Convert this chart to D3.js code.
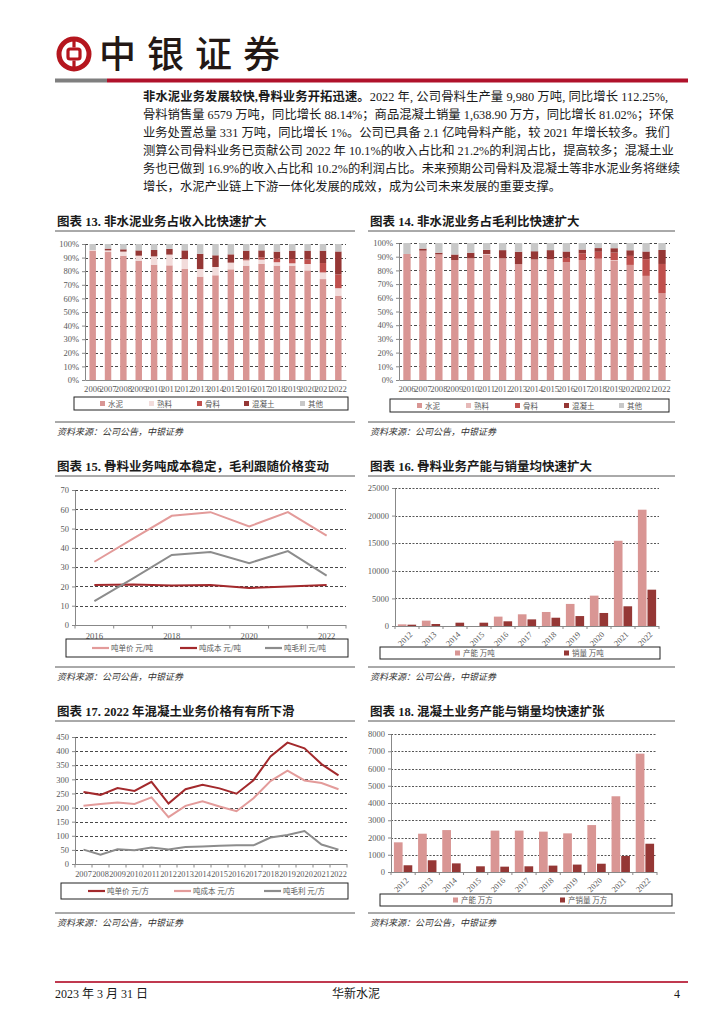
<!DOCTYPE html>
<html><head><meta charset="utf-8">
<script src="https://cdn.jsdelivr.net/npm/d3@7"></script>
<style>
body{margin:0;background:#fff;}
#page{position:relative;width:724px;height:1024px;overflow:hidden;background:#fff;}
.pl{position:absolute;left:143px;width:525px;height:18px;line-height:18px;font-family:"Liberation Serif","Noto Sans CJK SC",serif;font-size:12.3px;color:#1a1a1a;white-space:nowrap;}
.j{text-align:justify;text-align-last:justify;}
svg{position:absolute;left:0;top:0;}
</style></head><body><div id="page"></div>
<script>
// ================= DATA =================
const paraLines = [
  ["非水泥业务发展较快,骨料业务开拓迅速。", "2022 年, 公司骨料生产量 9,980 万吨, 同比增长 112.25%,"],
  ["", "骨料销售量 6579 万吨，同比增长 88.14%；商品混凝土销量 1,638.90 万方，同比增长 81.02%；环保"],
  ["", "业务处置总量 331 万吨，同比增长 1%。公司已具备 2.1 亿吨骨料产能，较 2021 年增长较多。我们"],
  ["", "测算公司骨料业务已贡献公司 2022 年 10.1%的收入占比和 21.2%的利润占比，提高较多；混凝土业"],
  ["", "务也已做到 16.9%的收入占比和 10.2%的利润占比。未来预期公司骨料及混凝土等非水泥业务将继续"],
  ["", "增长，水泥产业链上下游一体化发展的成效，成为公司未来发展的重要支撑。"]
];
const chartTitles = [
  "图表 13. 非水泥业务占收入比快速扩大",
  "图表 14. 非水泥业务占毛利比快速扩大",
  "图表 15. 骨料业务吨成本稳定，毛利跟随价格变动",
  "图表 16. 骨料业务产能与销量均快速扩大",
  "图表 17. 2022 年混凝土业务价格有有所下滑",
  "图表 18. 混凝土业务产能与销量均快速扩张"
];
const sourceText = "资料来源：公司公告，中银证券";

// Charts 13/14: stacked share
const years13 = ["2006","2007","2008","2009","2010","2011","2012","2013","2014","2015","2016","2017","2018","2019","2020","2021","2022"];
const pctTicks = [0,10,20,30,40,50,60,70,80,90,100];
const stackKeys = ["水泥","熟料","骨料","混凝土","其他"];
const revCement    = [95.1,94.1,91.4,87.7,84.8,84.3,81.6,76.0,77.0,81.4,84.1,85.3,84.1,84.1,80.6,74.2,62.0];
const revClinker   = [0.5,1.2,3.0,3.7,6.1,7.9,7.3,5.6,6.1,4.9,3.9,3.2,2.5,1.7,4.7,4.9,5.5];
const revAggregate = [0,0,0,0,0,0,0,0,0,0,0.5,1.7,2.9,3.2,3.2,6.9,10.1];
const revConcrete  = [0,1.3,1.7,3.9,4.7,4.2,6.4,11.2,8.6,6.1,6.6,5.1,4.9,6.1,6.6,9.1,16.9];
const revOther     = [4.4,3.4,3.9,4.7,4.4,3.6,4.7,7.2,8.3,7.6,4.9,4.7,5.6,4.9,4.9,4.9,5.5];
const gpCement     = [92.0,94.4,91.7,87.6,88.8,91.5,88.8,84.6,88.0,88.3,86.0,87.6,88.5,87.0,84.0,76.0,63.5];
const gpClinker    = [0,0,0,0,0,0.5,0,0,0,0,0,0,0,0.6,0,0,0];
const gpAggregate  = [0,0,0,0,0,0,0,0,0,0,3.2,4.9,5.1,5.4,6.6,12.2,21.2];
const gpConcrete   = [0,1.5,1.2,4.0,4.1,3.0,6.0,9.0,6.0,6.5,4.6,2.7,2.7,3.2,4.1,5.6,10.2];
const gpOther      = [8.0,4.1,7.1,8.4,7.1,5.0,5.2,6.4,6.0,5.2,6.2,4.8,3.7,3.8,5.3,6.2,5.1];

// Chart 15: aggregate per-ton
const years15 = ["2016","2017","2018","2019","2020","2021","2022"];
const xLabels15 = ["2016","2018","2020","2022"];
const ticks15 = [0,10,20,30,40,50,60,70];
const aggPrice  = [32.8,44.8,56.6,58.5,51.1,58.5,46.3];
const aggCost   = [20.7,21.0,20.5,20.7,19.2,20.0,20.7];
const aggProfit = [12.4,24.2,36.3,37.8,32.1,38.3,25.6];
const legend15 = ["吨单价 元/吨","吨成本 元/吨","吨毛利 元/吨"];

// Chart 16: aggregate capacity & sales
const years16 = ["2012","2013","2014","2015","2016","2017","2018","2019","2020","2021","2022"];
const ticks16 = [0,5000,10000,15000,20000,25000];
const aggCapacity = [300,970,0,0,1700,2120,2540,4000,5500,15440,21070];
const aggSales    = [240,360,600,600,850,1200,1500,1800,2360,3570,6579];
const legend16 = ["产能 万吨","销量 万吨"];

// Chart 17: concrete per-cubic
const years17 = ["2007","2008","2009","2010","2011","2012","2013","2014","2015","2016","2017","2018","2019","2020","2021","2022"];
const ticks17 = [0,50,100,150,200,250,300,350,400,450];
const conPrice  = [255,245,269,259,291,214,265,281,268,249,297,381,430,410,354,314];
const conCost   = [206,213,218,213,236,166,206,222,204,187,233,294,331,296,287,265];
const conProfit = [51,33,52,49,58,51,60,62,65,66,66,94,103,117,69,51];
const legend17 = ["吨单价 元/方","吨成本 元/方","吨毛利 元/方"];

// Chart 18: concrete capacity & sales
const years18 = ["2012","2013","2014","2015","2016","2017","2018","2019","2020","2021","2022"];
const ticks18 = [0,1000,2000,3000,4000,5000,6000,7000,8000];
const conCapacity = [1720,2220,2430,0,2400,2400,2340,2240,2720,4390,6860];
const conSales    = [390,680,500,330,310,330,370,430,480,930,1639];
const legend18 = ["产能 万方","产销量 万方"];

// ================= STYLE =================
const SERIF = '"Liberation Serif","Noto Sans CJK SC",serif';
const CJK = '"Noto Sans CJK SC",sans-serif';
const C_PINK = "#d99694", C_LIGHT = "#f2dcdb", C_CLINK14 = "#e6b9b8", C_RED = "#c0504d", C_DARK = "#953735", C_GRAY = "#c8c8c8";
const AXIS_TXT = "#595959";

const page = d3.select("#page");
const svg = page.append("svg").attr("width",724).attr("height",1024);

// ================= HEADER =================
const logo = svg.append("g").attr("transform","translate(74,54)");
logo.append("circle").attr("r",15).attr("fill","none").attr("stroke","#b5161e").attr("stroke-width",5);
logo.append("rect").attr("x",-6).attr("y",-5).attr("width",12).attr("height",10).attr("rx",2).attr("fill","none").attr("stroke","#b5161e").attr("stroke-width",3.2);
logo.append("line").attr("x1",0).attr("x2",0).attr("y1",-15).attr("y2",-6.5).attr("stroke","#b5161e").attr("stroke-width",3.2);
logo.append("line").attr("x1",0).attr("x2",0).attr("y1",6.5).attr("y2",15).attr("stroke","#b5161e").attr("stroke-width",3.2);
svg.append("text").attr("x",99).attr("y",68).attr("font-family",CJK).attr("font-size",37).attr("font-weight",500)
  .attr("letter-spacing",11).attr("fill","#231815").text("中银证券");
svg.append("rect").attr("x",55).attr("y",78.5).attr("width",52).attr("height",4).attr("fill","#7f7f7f");
svg.append("rect").attr("x",107).attr("y",78.5).attr("width",581).attr("height",4).attr("fill","#b0122b");

// ================= PARAGRAPH =================
paraLines.forEach((ln,i)=>{
  const d = page.append("div").attr("class","pl"+(i<paraLines.length-1?" j":"")).style("top",(88+i*18)+"px");
  if(ln[0]) d.append("b").style("font-family",SERIF).text(ln[0]);
  d.append("span").text(ln[1]);
});

// ================= FOOTER =================
svg.append("rect").attr("x",55).attr("y",981).attr("width",633).attr("height",2).attr("fill","#c0394f");
svg.append("text").attr("x",55).attr("y",998).attr("font-family",SERIF).attr("font-size",12).attr("fill","#1a1a1a").text("2023 年 3 月 31 日");
svg.append("text").attr("x",356).attr("y",998).attr("text-anchor","middle").attr("font-family",SERIF).attr("font-size",12).attr("fill","#1a1a1a").text("华新水泥");
svg.append("text").attr("x",680).attr("y",998).attr("text-anchor","end").attr("font-family",SERIF).attr("font-size",12).attr("fill","#1a1a1a").text("4");

// ================= HELPERS =================
function frame(x0,x1,titleY,title,sepY){
  svg.append("text").attr("x",x0+2).attr("y",titleY).attr("font-family",SERIF).attr("font-weight","bold")
    .attr("font-size",12.5).attr("fill","#1a1a1a").text(title);
  svg.append("line").attr("x1",x0).attr("x2",x1).attr("y1",titleY+5).attr("y2",titleY+5).attr("stroke","#555").attr("stroke-width",1);
  svg.append("line").attr("x1",x0).attr("x2",x1).attr("y1",sepY).attr("y2",sepY).attr("stroke","#555").attr("stroke-width",1);
  svg.append("text").attr("x",x0+2).attr("y",sepY+13).attr("font-family",CJK).attr("font-style","italic")
    .attr("font-size",9).attr("fill","#333").text(sourceText);
}
function grid(g,ticks,y,x0,x1,color,dash){
  g.append("g").selectAll("line").data(ticks.filter(t=>t>0)).join("line")
    .attr("x1",x0).attr("x2",x1).attr("y1",d=>Math.round(y(d))+0.5).attr("y2",d=>Math.round(y(d))+0.5)
    .attr("stroke",color).attr("stroke-width",0.9).attr("stroke-dasharray",dash);
}
function yAxis(g,y,ticks,x0,fmt){
  const a = g.append("g").attr("transform",`translate(${x0},0)`)
    .call(d3.axisLeft(y).tickValues(ticks).tickFormat(fmt).tickSize(3).tickPadding(3).tickSizeOuter(0));
  a.select(".domain").attr("stroke","#888");
  a.selectAll(".tick line").attr("stroke","#888");
  a.selectAll("text").attr("font-family",SERIF).attr("font-size",8.5).attr("fill",AXIS_TXT);
}
function legendBox(g,x0,x1,y0,y1){
  g.append("rect").attr("x",x0).attr("y",y0).attr("width",x1-x0).attr("height",y1-y0)
    .attr("fill","#fff").attr("stroke","#222").attr("stroke-width",1);
}
function legendSquares(g,items,colors,xs,cy){
  const it = g.append("g").selectAll("g").data(items).join("g").attr("transform",(d,i)=>`translate(${xs[i]},${cy})`);
  it.append("rect").attr("x",0).attr("y",-2.5).attr("width",5).attr("height",5).attr("fill",(d,i)=>colors[i]);
  it.append("text").attr("x",8).attr("y",3).attr("font-family",CJK).attr("font-size",7.5).attr("fill",AXIS_TXT).text(d=>d);
}
function legendLines(g,items,colors,xs,cy){
  const it = g.append("g").selectAll("g").data(items).join("g").attr("transform",(d,i)=>`translate(${xs[i]},${cy})`);
  it.append("line").attr("x1",0).attr("x2",17).attr("stroke",(d,i)=>colors[i]).attr("stroke-width",2.2);
  it.append("text").attr("x",19).attr("y",3).attr("font-family",CJK).attr("font-size",7.5).attr("fill",AXIS_TXT).text(d=>d);
}

// ================= STACKED CHARTS =================
function stackChart(cfg){
  const g = svg.append("g");
  const x = d3.scaleBand().domain(years13).range([cfg.left,cfg.right]).paddingInner(cfg.pad).paddingOuter(cfg.pad/2);
  const y = d3.scaleLinear().domain([0,100]).range([cfg.bottom,cfg.top]);
  grid(g,pctTicks,y,cfg.left,cfg.right,"#333","3,2");
  const rows = years13.map((yr,i)=>{const o={year:yr}; stackKeys.forEach((k,j)=>o[k]=cfg.series[j][i]); return o;});
  const st = d3.stack().keys(stackKeys)(rows);
  g.append("g").selectAll("g").data(st).join("g").attr("fill",(d,i)=>cfg.colors[i])
    .selectAll("rect").data(d=>d).join("rect")
    .attr("x",d=>x(d.data.year)).attr("width",x.bandwidth())
    .attr("y",d=>y(d[1])).attr("height",d=>Math.max(0,y(d[0])-y(d[1])));
  yAxis(g,y,pctTicks,cfg.left,d=>d+"%");
  const xa = g.append("g").attr("transform",`translate(0,${cfg.bottom})`)
    .call(d3.axisBottom(x).tickSize(0).tickPadding(6).tickSizeOuter(0));
  xa.select(".domain").attr("stroke","#888");
  xa.selectAll("text").attr("font-family",SERIF).attr("font-size",8.6).attr("fill",AXIS_TXT);
  legendBox(g,cfg.lx0,cfg.lx1,cfg.ly0,cfg.ly1);
  legendSquares(g,stackKeys,cfg.colors,cfg.lxs,(cfg.ly0+cfg.ly1)/2);
}
frame(55,355,226,chartTitles[0],422);
frame(368,675,226,chartTitles[1],422);
stackChart({left:85,right:346,top:244,bottom:380,pad:0.58,
  series:[revCement,revClinker,revAggregate,revConcrete,revOther],
  colors:[C_PINK,C_LIGHT,C_RED,C_DARK,C_GRAY],
  lx0:74,lx1:348,ly0:397,ly1:410,lxs:[100,149,197,244,300]});
stackChart({left:399,right:670,top:243,bottom:380,pad:0.54,
  series:[gpCement,gpClinker,gpAggregate,gpConcrete,gpOther],
  colors:[C_PINK,C_CLINK14,C_RED,C_DARK,C_GRAY],
  lx0:390,lx1:669,ly0:399,ly1:412,lxs:[417,466,515,564,619]});

// ================= LINE CHARTS =================
function lineChart(cfg){
  const g = svg.append("g");
  const x = d3.scaleBand().domain(cfg.years).range([cfg.left,cfg.right]);
  const y = d3.scaleLinear().domain([0,cfg.ticks[cfg.ticks.length-1]]).range([cfg.bottom,cfg.top]);
  grid(g,cfg.ticks,y,cfg.left,cfg.right,"#333","3,2");
  yAxis(g,y,cfg.ticks,cfg.left,d=>d);
  g.append("line").attr("x1",cfg.left).attr("x2",cfg.right).attr("y1",cfg.bottom+0.5).attr("y2",cfg.bottom+0.5).attr("stroke","#888");
  g.append("g").selectAll("line").data(d3.range(cfg.years.length+1)).join("line")
    .attr("x1",i=>cfg.left+i*x.step()).attr("x2",i=>cfg.left+i*x.step())
    .attr("y1",cfg.bottom).attr("y2",cfg.bottom+3.5).attr("stroke","#888");
  const xa = g.append("g").attr("transform",`translate(0,${cfg.bottom})`)
    .call(d3.axisBottom(x).tickValues(cfg.labels).tickSize(0).tickPadding(cfg.lpad).tickSizeOuter(0));
  xa.select(".domain").remove();
  xa.selectAll("text").attr("font-family",SERIF).attr("font-size",cfg.lfs).attr("fill",AXIS_TXT);
  const line = d3.line().x((d,i)=>x(cfg.years[i])+x.bandwidth()/2).y(d=>y(d));
  cfg.series.forEach((s,k)=>{
    g.append("path").datum(s).attr("d",line).attr("fill","none").attr("stroke",cfg.colors[k]).attr("stroke-width",2);
  });
  legendBox(g,cfg.lx0,cfg.lx1,cfg.ly0,cfg.ly1);
  legendLines(g,cfg.legend,cfg.colors,cfg.lxs,(cfg.ly0+cfg.ly1)/2);
}
frame(55,355,471,chartTitles[2],667);
lineChart({years:years15,labels:xLabels15,ticks:ticks15,left:75,right:346,top:490,bottom:625,lpad:8,lfs:8.6,
  series:[aggPrice,aggCost,aggProfit],colors:["#e39b9a","#a3292c","#8c8c8c"],legend:legend15,
  lx0:66,lx1:348,ly0:639,ly1:657,lxs:[92,180,265]});
frame(55,355,716,chartTitles[4],913);
lineChart({years:years17,labels:years17,ticks:ticks17,left:75,right:347,top:737,bottom:864,lpad:7,lfs:8.3,
  series:[conPrice,conCost,conProfit],colors:["#a3292c","#e39b9a","#8c8c8c"],legend:legend17,
  lx0:61,lx1:348,ly0:883,ly1:899,lxs:[88,174,264]});

// ================= GROUPED BAR CHARTS =================
function barChart(cfg){
  const g = svg.append("g");
  const x = d3.scaleBand().domain(cfg.years).range([cfg.left,cfg.right]).paddingInner(0.24).paddingOuter(0.12);
  const sub = d3.scaleBand().domain([0,1]).range([0,x.bandwidth()]).paddingInner(0.1);
  const y = d3.scaleLinear().domain([0,cfg.ticks[cfg.ticks.length-1]]).range([cfg.bottom,cfg.top]);
  grid(g,cfg.ticks,y,cfg.left,cfg.right,"#444","2,1.5");
  cfg.series.forEach((s,k)=>{
    g.append("g").selectAll("rect").data(s).join("rect")
      .attr("x",(d,i)=>x(cfg.years[i])+sub(k)).attr("width",sub.bandwidth())
      .attr("y",d=>y(d)).attr("height",d=>cfg.bottom-y(d)).attr("fill",cfg.colors[k]);
  });
  yAxis(g,y,cfg.ticks,cfg.left,d=>d);
  g.append("line").attr("x1",cfg.left).attr("x2",cfg.right).attr("y1",cfg.bottom+0.5).attr("y2",cfg.bottom+0.5).attr("stroke","#888");
  g.append("g").selectAll("line").data(d3.range(cfg.years.length+1)).join("line")
    .attr("x1",i=>cfg.left+i*x.step()).attr("x2",i=>cfg.left+i*x.step())
    .attr("y1",cfg.bottom).attr("y2",cfg.bottom+3).attr("stroke","#888");
  g.append("g").selectAll("text").data(cfg.years).join("text")
    .attr("transform",d=>`translate(${x(d)+x.bandwidth()/2+4},${cfg.bottom+7}) rotate(-45)`)
    .attr("text-anchor","end").attr("dy","0.35em")
    .attr("font-family",SERIF).attr("font-size",8.3).attr("fill",AXIS_TXT).text(d=>d);
  legendBox(g,cfg.lx0,cfg.lx1,cfg.ly0,cfg.ly1);
  legendSquares(g,cfg.legend,cfg.colors,cfg.lxs,(cfg.ly0+cfg.ly1)/2);
}
frame(368,675,471,chartTitles[3],667);
barChart({years:years16,ticks:ticks16,left:395,right:659,top:488,bottom:626,
  series:[aggCapacity,aggSales],colors:[C_PINK,C_DARK],legend:legend16,
  lx0:380,lx1:660,ly0:647,ly1:659,lxs:[455,564]});
frame(368,675,716,chartTitles[5],913);
barChart({years:years18,ticks:ticks18,left:391,right:657,top:734,bottom:872,
  series:[conCapacity,conSales],colors:[C_PINK,C_DARK],legend:legend18,
  lx0:380,lx1:672,ly0:894,ly1:906,lxs:[453,560]});
</script></body></html>
